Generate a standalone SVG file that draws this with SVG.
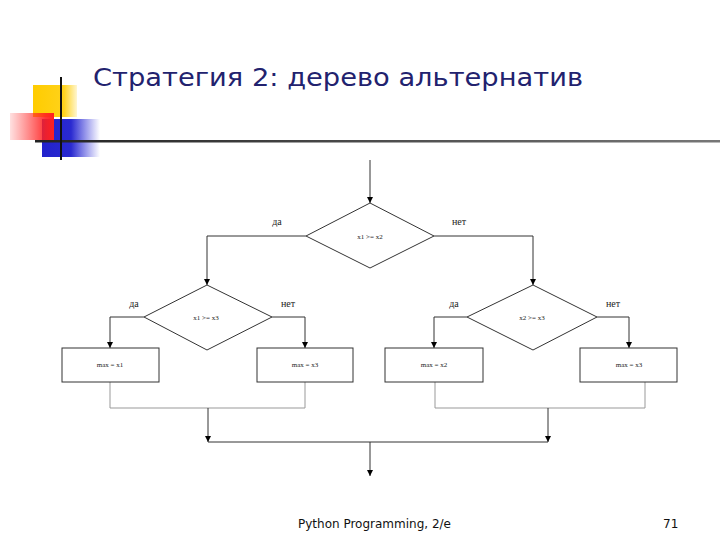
<svg xmlns="http://www.w3.org/2000/svg" width="720" height="540" viewBox="0 0 720 540">
<defs>
<linearGradient id="gy" x1="0" x2="1" y1="0" y2="0"><stop offset="0" stop-color="#ffcc00"/><stop offset="0.7" stop-color="#ffd21a"/><stop offset="1" stop-color="#ffd21a" stop-opacity="0.2"/></linearGradient>
<linearGradient id="gr" x1="0" x2="1" y1="0" y2="0"><stop offset="0" stop-color="#ff3333" stop-opacity="0.15"/><stop offset="0.8" stop-color="#ff2020" stop-opacity="0.9"/><stop offset="1" stop-color="#ff2020"/></linearGradient>
<linearGradient id="gb" x1="0" x2="1" y1="0" y2="0"><stop offset="0" stop-color="#2222cc"/><stop offset="0.5" stop-color="#2a2ad0"/><stop offset="1" stop-color="#3333dd" stop-opacity="0"/></linearGradient>
<linearGradient id="gl" x1="0" x2="1" y1="0" y2="0"><stop offset="0" stop-color="#222"/><stop offset="1" stop-color="#777"/></linearGradient>
<marker id="ah" viewBox="0 0 6 6" refX="6" refY="3" markerWidth="6" markerHeight="6" orient="auto" markerUnits="userSpaceOnUse"><path d="M0,0 L6,3 L0,6 z" fill="#000"/></marker>
<style>
.ln{fill:none;stroke:#333;stroke-width:1}
.gl{fill:none;stroke:#999;stroke-width:1}
.sh{fill:#fff;stroke:#333;stroke-width:1}
.t{font-family:"Liberation Serif",serif;font-size:7px;fill:#222;text-anchor:middle}
.lb{font-family:"Liberation Serif",serif;font-size:10px;fill:#222;text-anchor:middle}
</style>
</defs>
<rect width="720" height="540" fill="#fff"/>
<g id="decor">
<rect x="33" y="85" width="44" height="32" fill="url(#gy)"/>
<rect x="42" y="119" width="58" height="38" fill="url(#gb)"/>
<rect x="10" y="113" width="44" height="27" fill="url(#gr)"/>
<rect x="35" y="140" width="685" height="2.5" fill="url(#gl)"/>
<line x1="61" y1="77" x2="61" y2="160" stroke="#111" stroke-width="2"/>
</g>
<text x="93" y="86" font-family="'DejaVu Sans',Verdana,sans-serif" font-size="24.5" fill="#22226e" textLength="490" lengthAdjust="spacingAndGlyphs">Стратегия 2: дерево альтернатив</text>
<g id="connectors">
<line class="ln" x1="370" y1="160" x2="370" y2="203" marker-end="url(#ah)"/>
<polyline class="ln" points="306,236 207,236 207,285" marker-end="url(#ah)"/>
<polyline class="ln" points="434,236 533,236 533,285" marker-end="url(#ah)"/>
<polyline class="ln" points="144,317 110,317 110,348" marker-end="url(#ah)"/>
<polyline class="ln" points="272,317 305,317 305,348" marker-end="url(#ah)"/>
<polyline class="ln" points="467,317 434,317 434,348" marker-end="url(#ah)"/>
<polyline class="ln" points="597,317 629,317 629,348" marker-end="url(#ah)"/>
<polyline class="gl" points="110,382 110,408 305,408 305,382"/>
<polyline class="gl" points="435,382 435,408 645,408 645,382"/>
<line class="ln" x1="208" y1="408" x2="208" y2="442" marker-end="url(#ah)"/>
<line class="ln" x1="548" y1="408" x2="548" y2="442" marker-end="url(#ah)"/>
<line class="ln" x1="208" y1="442" x2="548" y2="442"/>
<line class="ln" x1="370" y1="442" x2="370" y2="476" stroke-width="1.5" marker-end="url(#ah)"/>
</g>
<g id="d1"><polygon class="sh" points="370,203 434,236 370,268 306,236"/><text class="t" x="370" y="239">x1 &gt;= x2</text></g>
<g id="d2"><polygon class="sh" points="207,285 272,317 207,350 144,317"/><text class="t" x="206" y="320">x1 &gt;= x3</text></g>
<g id="d3"><polygon class="sh" points="533,285 597,317 533,350 467,317"/><text class="t" x="532" y="320">x2 &gt;= x3</text></g>
<g id="b1"><rect class="sh" x="62" y="348" width="97" height="34"/><text class="t" x="110" y="367">max = x1</text></g>
<g id="b2"><rect class="sh" x="257" y="348" width="96" height="34"/><text class="t" x="305" y="367">max = x3</text></g>
<g id="b3"><rect class="sh" x="385" y="348" width="98" height="34"/><text class="t" x="434" y="367">max = x2</text></g>
<g id="b4"><rect class="sh" x="580" y="348" width="97" height="34"/><text class="t" x="629" y="367">max = x3</text></g>
<g id="labels">
<text class="lb" x="277" y="225">да</text>
<text class="lb" x="459" y="225">нет</text>
<text class="lb" x="134" y="307">да</text>
<text class="lb" x="288" y="307">нет</text>
<text class="lb" x="454" y="307">да</text>
<text class="lb" x="613" y="307">нет</text>
</g>
<text x="298" y="528" font-family="'DejaVu Sans',sans-serif" font-size="12" fill="#111">Python Programming, 2/e</text>
<text x="663" y="528" font-family="'DejaVu Sans',sans-serif" font-size="12" fill="#111">71</text>
</svg>
